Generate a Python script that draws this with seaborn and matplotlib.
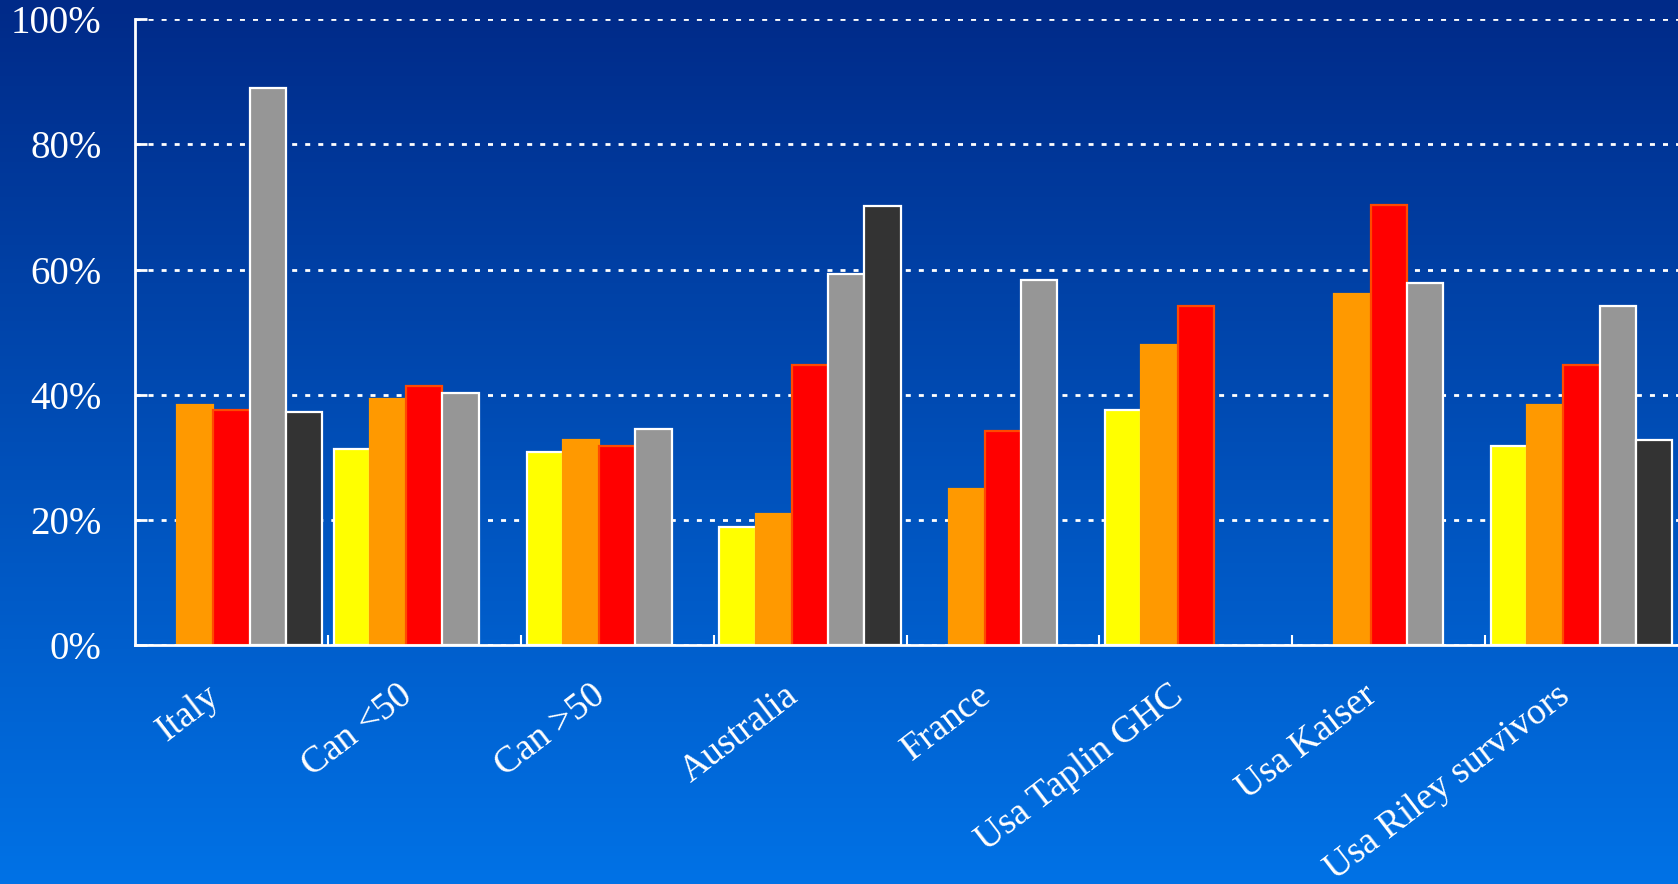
import numpy as np
import pandas as pd
import matplotlib
matplotlib.use("Agg")
import matplotlib.pyplot as plt
import matplotlib.transforms as mtransforms
import seaborn as sns
from matplotlib.ticker import FixedLocator

countries = ["Italy", "Can <50", "Can >50", "Australia", "France",
             "Usa Taplin GHC", "Usa Kaiser", "Usa Riley survivors"]
series = ["S1", "S2", "S3", "S4", "S5"]
nan = np.nan
s1 = [nan, 31.3, 30.9, 18.8, nan, 37.6, nan, 31.8]   # yellow
s2 = [38.3, 39.3, 32.8, 21.0, 25.0, 47.9, 56.1, 38.3]  # orange
s3 = [37.6, 41.4, 31.8, 44.8, 34.2, 54.2, 70.4, 44.8]  # red
s4 = [89.1, 40.2, 34.5, 59.3, 58.3, nan, 57.9, 54.2]   # gray
s5 = [37.3, nan, nan, 70.1, nan, nan, nan, 32.8]       # dark
yticks = [0, 20, 40, 60, 80, 100]
ytick_labels = ["0%", "20%", "40%", "60%", "80%", "100%"]

fills = ["#FFFF00", "#FF9900", "#FF0000", "#969696", "#333333"]
edges = ["#FFFFFF", "#FF9900", "#FF4A00", "#FFFFFF", "#FFFFFF"]

rows = []
for name, vals in zip(series, [s1, s2, s3, s4, s5]):
    for c, v in zip(countries, vals):
        rows.append({"country": c, "series": name, "value": v})
df = pd.DataFrame(rows)

sns.set_theme(style="white")
plt.rcParams["font.family"] = ["Liberation Serif", "DejaVu Serif"]

fig = plt.figure(figsize=(16.78, 8.84), dpi=100)

# gradient background
bg = fig.add_axes([0, 0, 1, 1], zorder=-10)
top = np.array([0, 42, 136]) / 255.0
bot = np.array([0, 114, 230]) / 255.0
t = np.linspace(0, 1, 256)[:, None]
grad = (top[None, :] * (1 - t) + bot[None, :] * t)[:, None, :]
bg.imshow(grad, aspect="auto", extent=[0, 1, 0, 1])
bg.set_axis_off()

ax = fig.add_axes([135 / 1678, 1 - 645 / 884, 1 - 135 / 1678, (645 - 19.3) / 884])
ax.set_facecolor("none")

sns.barplot(data=df, x="country", y="value", hue="series", order=countries,
            hue_order=series, palette=fills, saturation=1, width=0.94, ax=ax,
            linewidth=1.6, legend=False, zorder=3)

for cont, ec in zip(ax.containers, edges):
    for p in cont.patches:
        p.set_edgecolor(ec)
        p.set_linewidth(1.6)
        p.set_zorder(3)

ax.set_xlim(-0.5, 7.5)
ax.set_ylim(0, 100)
ax.set_xlabel("")
ax.set_ylabel("")

ax.yaxis.set_major_locator(FixedLocator(yticks))
ax.set_yticklabels(ytick_labels)
ax.yaxis.grid(True, color="white", linewidth=2.0, linestyle=(0, (1.8, 2.9)), zorder=1)
ax.xaxis.grid(False)
ax.set_axisbelow(True)

for s in ["top", "right"]:
    ax.spines[s].set_visible(False)
for s in ["left", "bottom"]:
    ax.spines[s].set_color("white")
    ax.spines[s].set_linewidth(2.0)
    ax.spines[s].set_zorder(5)

ax.tick_params(axis="y", direction="in", length=8.5, width=2, color="white",
               labelcolor="white", labelsize=28, pad=24, left=True)
ax.tick_params(axis="x", which="major", length=0, labelcolor="white",
               labelsize=27, pad=36)
ax.xaxis.set_minor_locator(FixedLocator([i + 0.5 for i in range(7)]))
ax.tick_params(axis="x", which="minor", direction="in", length=7, width=1.5,
               color="white", bottom=True)

offset = mtransforms.ScaledTranslation(-16 / 100, 3 / 100, fig.dpi_scale_trans)
for lab in ax.get_xticklabels():
    lab.set_rotation(37.5)
    lab.set_ha("right")
    lab.set_va("center")
    lab.set_rotation_mode("anchor")
    lab.set_transform(lab.get_transform() + offset)

fig.savefig("out.png", dpi=100)
